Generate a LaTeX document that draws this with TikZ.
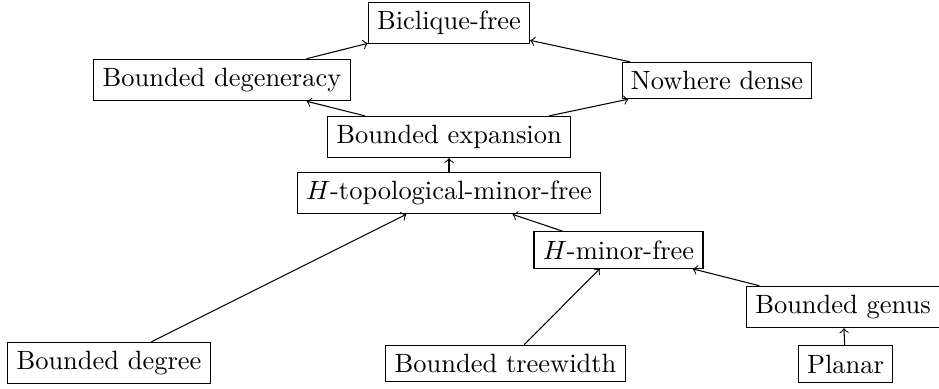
\documentclass[tikz,border=0pt]{standalone}

\tikzset{every picture/.style={line width=0.4pt}}
\tikzset{cls/.style={draw,inner sep=3.33pt}}

\begin{document}
\begin{tikzpicture}[x=0.378pt,y=0.378pt,yscale=-1,xscale=1]
		\useasboundingbox (0,0) rectangle (939,389); %set diagram size

		% Top row
		\node [cls] (biclique) at (449,23) {Biclique-free};
		\node [cls] (degen) at (222,80) {Bounded degeneracy};
		\node [cls] (nowhere) at (717,80.5) {Nowhere dense};
		% Middle
		\node [cls] (expansion) at (449,137) {Bounded expansion};
		\node [cls] (topminor) at (449,193) {$H$-topological-minor-free};
		\node [cls] (minor) at (618.5,250) {$H$-minor-free};
		\node [cls] (genus) at (843,307) {Bounded genus};
		% Bottom row
		\node [cls] (degree) at (109,363) {Bounded degree};
		\node [cls] (treewidth) at (505.5,363.5) {Bounded treewidth};
		\node [cls] (planar) at (845.5,364) {Planar};

		% Inclusions
		\draw [->] (degen) -- (biclique);
		\draw [->] (nowhere) -- (biclique);
		\draw [->] (expansion) -- (degen);
		\draw [->] (expansion) -- (nowhere);
		\draw [->] (topminor) -- (expansion);
		\draw [->] (minor) -- (topminor);
		\draw [->] (degree) -- (topminor);
		\draw [->] (treewidth) -- (minor);
		\draw [->] (genus) -- (minor);
		\draw [->] (planar) -- (genus);

	\end{tikzpicture}
\end{document}
